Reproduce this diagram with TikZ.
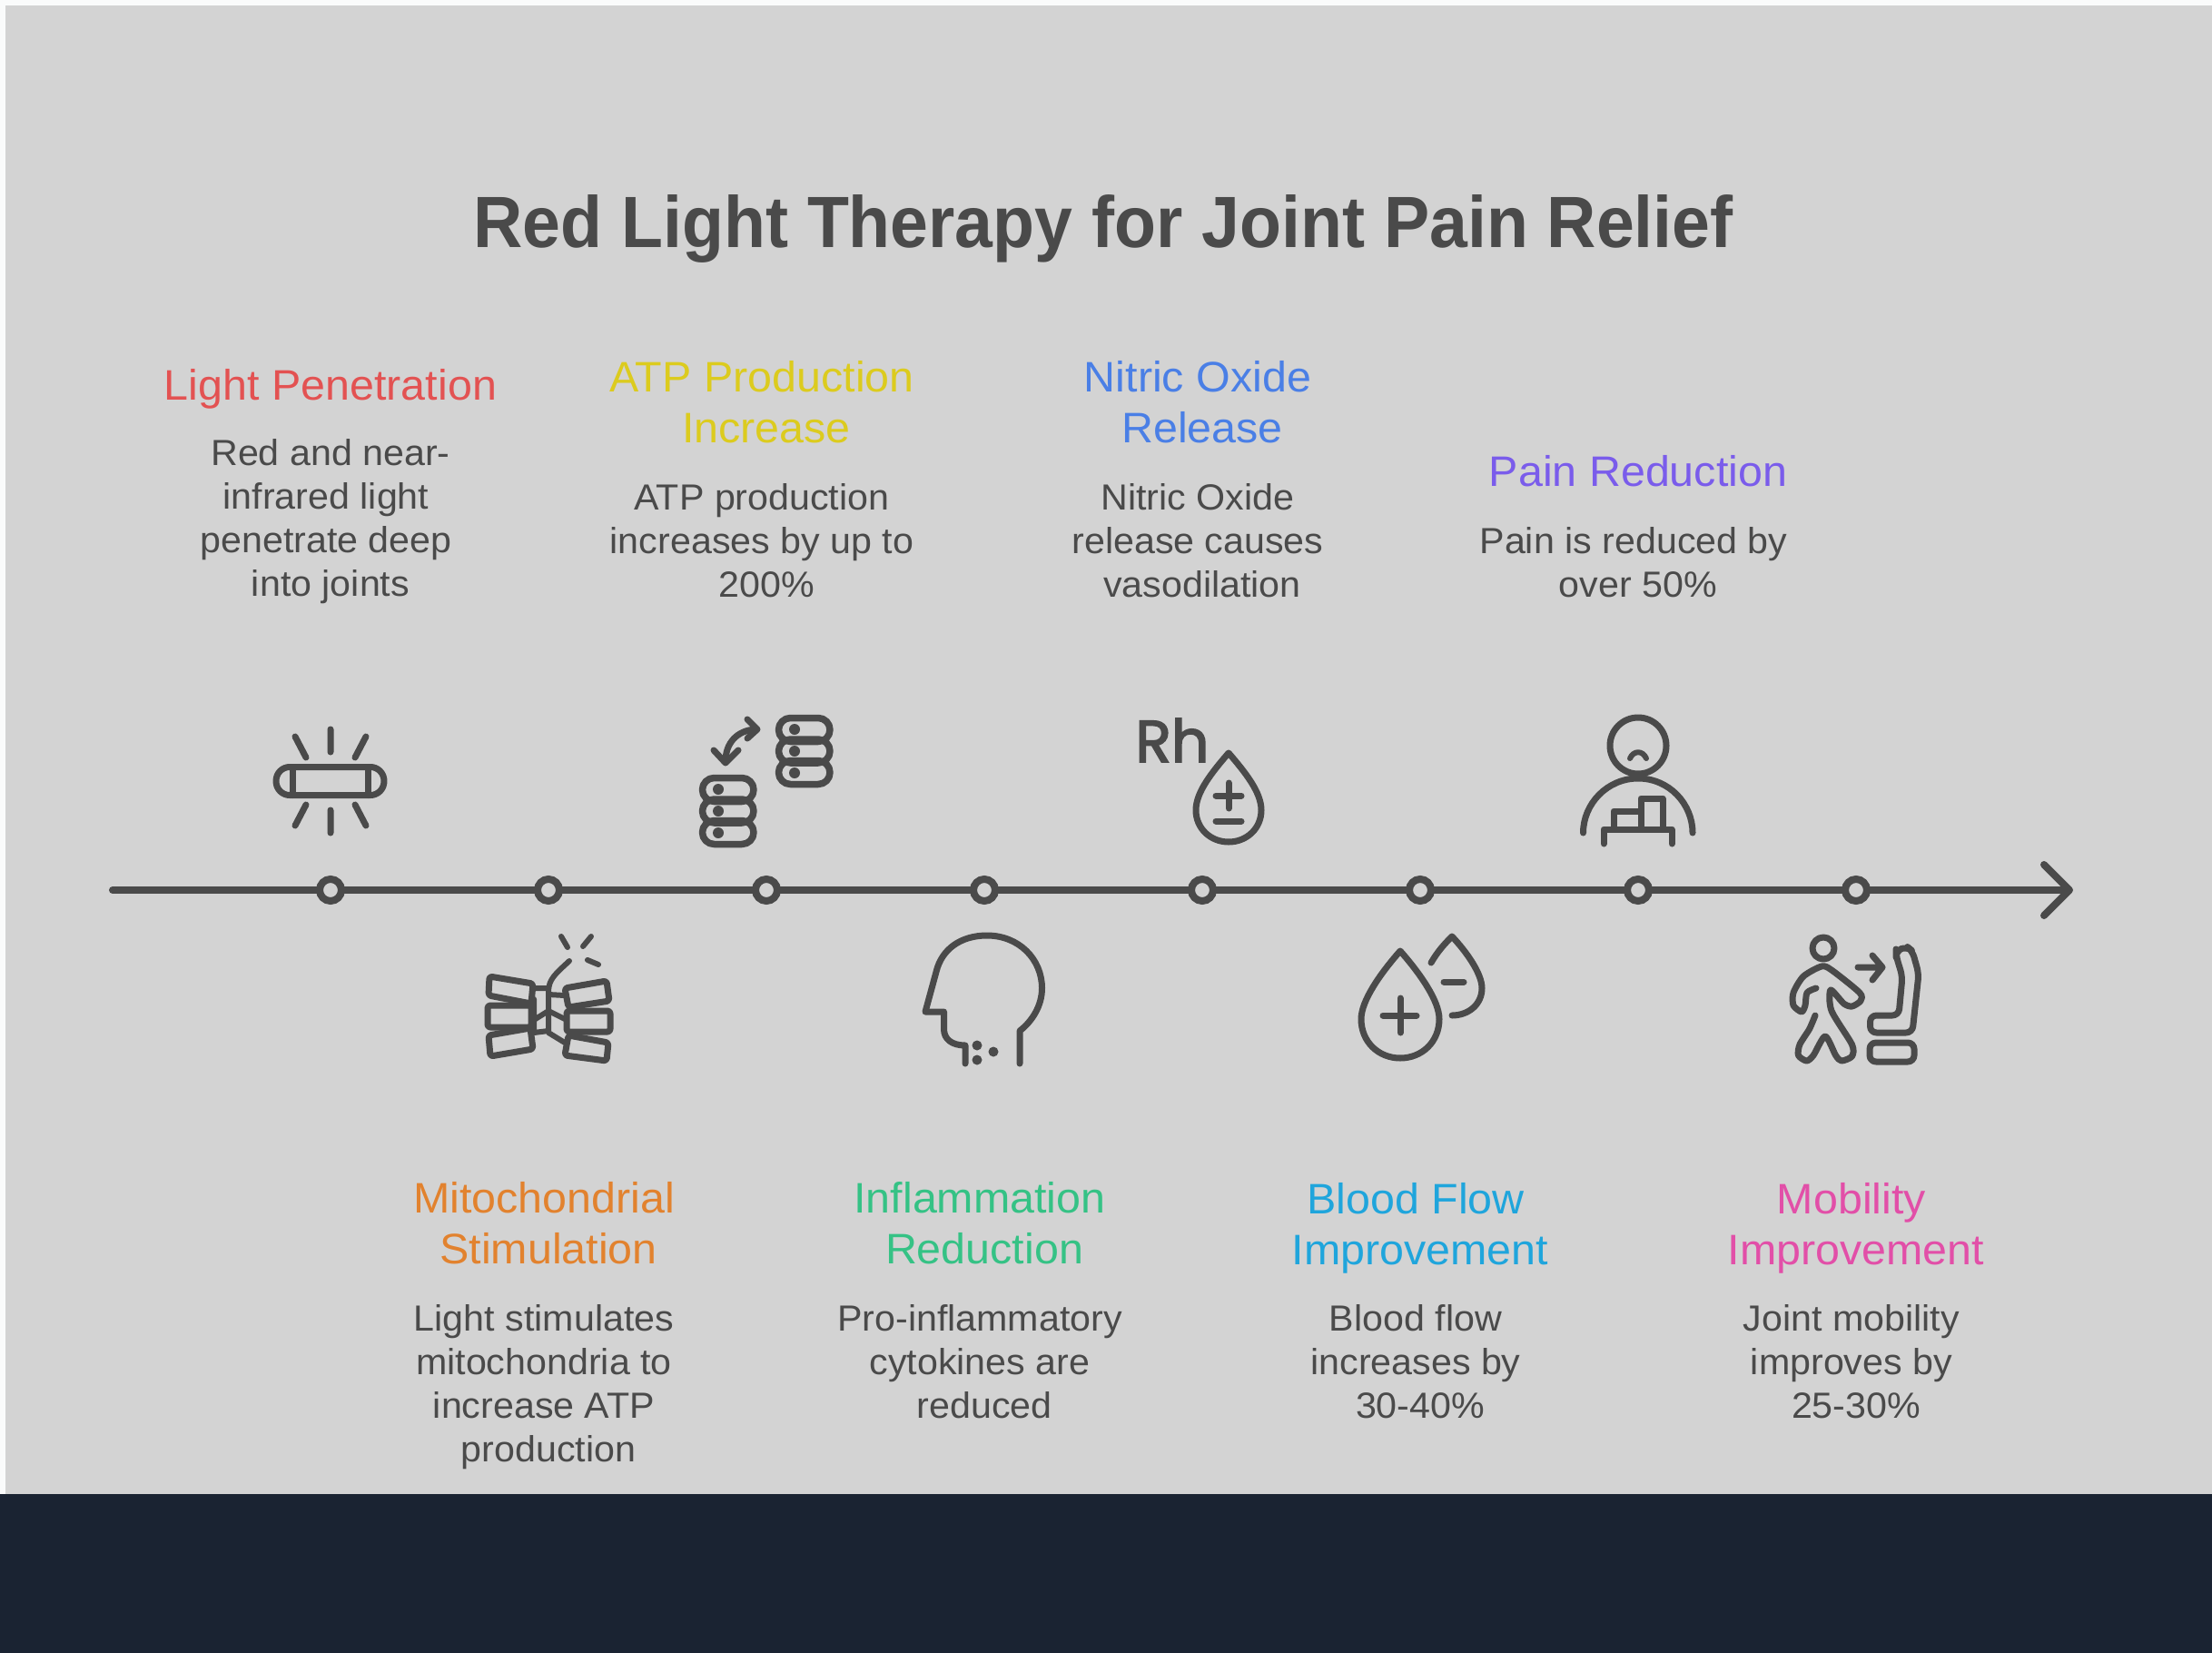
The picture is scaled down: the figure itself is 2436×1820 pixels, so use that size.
\documentclass[tikz,border=0pt]{standalone}
\usepackage{fontspec}
\setmainfont[FakeStretch=1.03]{Liberation Sans}
\newfontfamily\titlefont[FakeStretch=0.94]{Liberation Sans}
\newfontfamily\rhfont[RawFeature={embolden=2.5}]{Poppins}
\usetikzlibrary{arrows.meta}
\definecolor{ink}{HTML}{4A4A4A}
\definecolor{paper}{HTML}{D3D3D3}
\definecolor{rim}{HTML}{FAFBFB}
\definecolor{band}{HTML}{1A2332}
\definecolor{hred}{HTML}{E35252}
\definecolor{hyellow}{HTML}{DCCB1E}
\definecolor{hblue}{HTML}{4A7FE6}
\definecolor{hpurple}{HTML}{7A5CEB}
\definecolor{horange}{HTML}{E2822E}
\definecolor{hgreen}{HTML}{35C285}
\definecolor{hcyan}{HTML}{1FA5DC}
\definecolor{hpink}{HTML}{E24FA8}
\newcommand{\trail}{\rule{10pt}{0pt}}
\tikzset{
  x=1pt,y=-1pt,
  axisline/.style={draw=ink,line width=8pt,line cap=round},
  dotmark/.style={circle,draw=ink,fill=paper,line width=8pt,minimum size=24pt,inner sep=0pt},
  iconline/.style={draw=ink,line width=7pt,line cap=round,line join=round},
  headtext/.style={font=\fontsize{47}{56}\selectfont,align=center,inner sep=0pt},
  bodytext/.style={text=ink,font=\fontsize{40}{48}\selectfont,align=center,inner sep=0pt},
}
\begin{document}
\begin{tikzpicture}
  \useasboundingbox (0,0) rectangle (2436,1820);
  \fill[rim] (0,0) rectangle (2436,1820);
  \fill[paper] (6,6) rectangle (2436,1645);
  \fill[band] (0,1645) rectangle (2436,1820);
  \node[text=ink,font=\titlefont\fontsize{80}{96}\bfseries\selectfont,inner sep=0pt] (title) at (1215,252) {Red Light Therapy for Joint Pain Relief};

  % time line
  \coordinate (axisstart) at (124,980);
  \coordinate (axisend) at (2283,980);
  \draw[axisline,-{Straight Barb[length=28pt,width=56pt,round]}] (axisstart) -- (axisend);
  \foreach \n/\x in {1/364,2/604,3/844,4/1084,5/1324,6/1564,7/1804,8/2044}
    \node[dotmark] (dot\n) at (\x,980) {};

  % labels above
  \node[headtext,text=hred] (headlight) at (364,428) {Light Penetration};
  \node[bodytext] (bodylight) at (364,574) {Red and near-\\infrared light\trail\\penetrate deep\trail\\into joints};
  \node[headtext,text=hyellow] (headatp) at (844,443) {ATP Production\trail\\Increase};
  \node[bodytext] (bodyatp) at (844,595) {ATP production\trail\\increases by up to\trail\\200\%};
  \node[headtext,text=hblue] (headno) at (1324,443) {Nitric Oxide\trail\\Release};
  \node[bodytext] (bodyno) at (1324,595) {Nitric Oxide\trail\\release causes\trail\\vasodilation};
  \node[headtext,text=hpurple] (headpain) at (1804,519) {Pain Reduction};
  \node[bodytext] (bodypain) at (1804,619) {Pain is reduced by\trail\\over 50\%};

  % labels below
  \node[headtext,text=horange] (headmito) at (604,1347) {Mitochondrial\trail\\Stimulation};
  \node[bodytext] (bodymito) at (604,1527) {Light stimulates\trail\\mitochondria to\trail\\increase ATP\trail\\production};
  \node[headtext,text=hgreen] (headinfl) at (1084,1347) {Inflammation\trail\\Reduction};
  \node[bodytext] (bodyinfl) at (1084,1499) {Pro-inflammatory\trail\\cytokines are\trail\\reduced};
  \node[headtext,text=hcyan] (headblood) at (1564,1352) {Blood Flow\trail\\Improvement};
  \node[bodytext] (bodyblood) at (1564,1499) {Blood flow\trail\\increases by\trail\\30-40\%};
  \node[headtext,text=hpink] (headmob) at (2044,1352) {Mobility\trail\\Improvement};
  \node[bodytext] (bodymob) at (2044,1499) {Joint mobility\trail\\improves by\trail\\25-30\%};

  % light icon
  \draw[iconline] (304,860) .. controls (304,851) and (311,844.5) .. (319,844.5) -- (408,844.5) .. controls (416,844.5) and (423,851) .. (423,860) .. controls (423,869) and (416,875.5) .. (408,875.5) -- (319,875.5) .. controls (311,875.5) and (304,869) .. (304,860) -- cycle;
  \draw[iconline] (322.5,844.5) -- (322.5,875.5) (405,844.5) -- (405,875.5);
  \draw[iconline] (364,803) -- (364,828) (364,892) -- (364,917) (325,811) -- (337,834) (403,811) -- (391,834) (337,886) -- (325,909) (391,886) -- (403,909);

  % spine icon
  \draw[iconline,rounded corners=3pt] (539,1075) -- (587,1083) -- (585,1105) -- (538,1096) -- cycle;
  \draw[iconline,rounded corners=3pt] (537,1107) -- (585,1107) -- (585,1131) -- (537,1131) -- cycle;
  \draw[iconline,rounded corners=3pt] (538,1140) -- (584,1132) -- (587,1155) -- (540,1163) -- cycle;
  \draw[iconline,rounded corners=3pt] (622,1088) -- (668,1080) -- (671,1102) -- (626,1109) -- cycle;
  \draw[iconline,rounded corners=3pt] (624,1113) -- (672,1113) -- (672,1136) -- (624,1136) -- cycle;
  \draw[iconline,rounded corners=3pt] (626,1140) -- (670,1148) -- (668,1168) -- (622,1162) -- cycle;
  \draw[iconline,line width=6pt] (627,1058) .. controls (612,1072) and (604,1078) .. (604,1092) -- (604,1137) -- (622,1148);
  \draw[iconline,line width=6pt] (589,1088) -- (604,1088) (604,1095) -- (622,1096) (588,1100) -- (588,1137) (588,1123) -- (604,1113) -- (622,1122) (604,1135) -- (588,1137);
  \draw[iconline,line width=6pt] (618,1031) -- (625,1043) (651,1031) -- (642,1042) (647,1057) -- (659,1062);

  % exchange icon
  \foreach \x/\y in {855/787,771/853}{
    \draw[iconline,line width=7.5pt,rounded corners=13pt] (\x+2.5,\y+3.5) rectangle (\x+59,\y+29.5);
    \draw[iconline,line width=7.5pt,rounded corners=13pt] (\x+2.5,\y+27) rectangle (\x+59,\y+53);
    \draw[iconline,line width=7.5pt,rounded corners=13pt] (\x+2.5,\y+50.5) rectangle (\x+59,\y+76.5);
    \foreach \d in {16,40,64}
      \fill[ink] (\x+20,\y+\d) circle (6pt);
  }
  \draw[iconline] (799,838) .. controls (799,818) and (812,804) .. (832,803);
  \draw[iconline] (786,826) -- (799,840) -- (813,826) (823,792) -- (834,803) -- (823,813);

  % droplet icon
  \node[text=ink,font=\rhfont\fontsize{65}{65}\selectfont,inner sep=0pt] (rhmark) at (1291,815) {Rh};
  \draw[iconline] (1353,829) .. controls (1335,850) and (1317,872) .. (1317,892) .. controls (1317,912) and (1333,927) .. (1353,927) .. controls (1373,927) and (1389,912) .. (1389,892) .. controls (1389,872) and (1371,850) .. (1353,829) -- cycle;
  \draw[iconline] (1339,876) -- (1367,876) (1353,862) -- (1353,890) (1339,904) -- (1367,904);

  % head icon
  \draw[iconline] (1063,1171) -- (1063,1151) .. controls (1048,1151) and (1039.5,1144) .. (1039.5,1133) -- (1039.5,1114) -- (1019,1114) -- (1031,1070) .. controls (1037,1045) and (1058,1030) .. (1087,1030) .. controls (1122,1030) and (1147.5,1056) .. (1147.5,1088) .. controls (1147.5,1108) and (1136,1125) .. (1123,1135) -- (1123,1171);
  \fill[ink] (1076,1151) circle (5.5pt) (1076,1167) circle (5.5pt) (1094,1158) circle (5.5pt);

  % blood flow icon
  \draw[iconline] (1542,1047) .. controls (1520,1072) and (1499,1102) .. (1499,1122) .. controls (1499,1147) and (1518,1165) .. (1542,1165) .. controls (1566,1165) and (1585,1147) .. (1585,1122) .. controls (1585,1102) and (1564,1072) .. (1542,1047) -- cycle;
  \draw[iconline] (1523,1118) -- (1560,1118) (1542,1099) -- (1542,1137);
  \draw[iconline] (1576,1060) .. controls (1583,1048) and (1590,1040) .. (1599,1031) .. controls (1615,1048) and (1632,1072) .. (1632,1088) .. controls (1632,1106) and (1617,1118) .. (1599,1118);
  \draw[iconline] (1590,1081) -- (1612,1081);

  % pain icon
  \draw[iconline] (1804,821) circle (31pt);
  \draw[iconline,line width=6pt] (1795,835) .. controls (1799,826) and (1809,826) .. (1813,835);
  \draw[iconline] (1743.5,917) .. controls (1743.5,885) and (1770,857) .. (1804,857) .. controls (1838,857) and (1864,885) .. (1864,917);
  \draw[iconline] (1766,929) -- (1766,913) -- (1841,913) -- (1841,929);
  \draw[iconline] (1777,913) -- (1777,893) -- (1807,893) -- (1807,913) (1807,893) -- (1807,879) -- (1831,879) -- (1831,913);

  % mobility icon
  \draw[iconline] (2008,1044) circle (12pt);
  \draw[iconline] plot[smooth,tension=0.45] coordinates {(2000,1088) (1990,1093) (1988,1107) (1984,1114) (1975,1107) (1975,1093) (1986,1075) (2006,1064) (2017,1068) (2048,1093) (2049,1102) (2039.5,1108) (2030.5,1105) (2016,1090) (2017,1113) (2039.5,1150) (2039.5,1163) (2028,1168) (2021.6,1162) (2010,1141) (1997,1162) (1989.5,1168) (1980.5,1162) (1982,1150) (1992.6,1133) (1999,1118)};
  \draw[iconline] (2046,1065) -- (2073,1065) (2062,1052) -- (2073,1065) -- (2062,1079);
  \draw[iconline,rounded corners=7pt] (2088,1052) -- (2088,1047) -- (2100,1042) -- (2106,1047) -- (2113,1072) -- (2106,1137) -- (2059.5,1137) -- (2059.5,1118) -- (2091,1118) -- (2095,1075) -- cycle;
  \draw[iconline,rounded corners=7pt] (2059,1148) rectangle (2108,1169);
\end{tikzpicture}
\end{document}
